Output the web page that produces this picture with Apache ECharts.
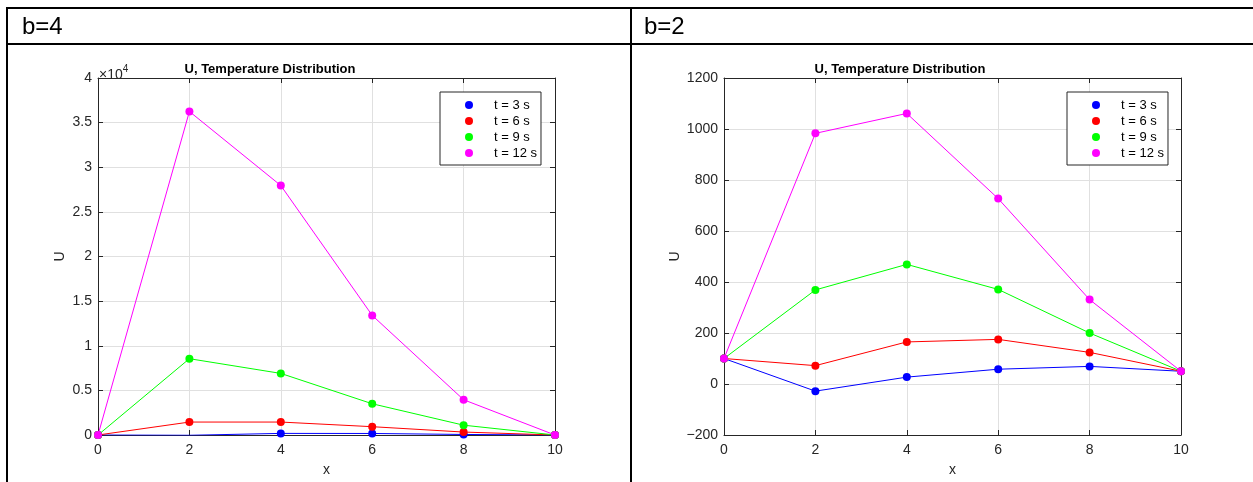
<!DOCTYPE html>
<html>
<head>
<meta charset="utf-8">
<script src="https://cdn.jsdelivr.net/npm/echarts@6/dist/echarts.min.js"></script>
<style>
  html, body { margin: 0; padding: 0; background: #fff; }
  #chart { width: 1253px; height: 482px; }
</style>
</head>
<body>
<div id="chart"></div>
<script>
// x positions (shared by both panels)
const xs = [0, 2, 4, 6, 8, 10]
const seriesNames = ['t = 3 s', 't = 6 s', 't = 9 s', 't = 12 s']
const seriesColors = ['#0000ff', '#ff0000', '#00ff00', '#ff00ff']

// b=4 panel
const b4T3 = [0, -30, 180, 170, 60, 0]
const b4T6 = [0, 1450, 1450, 930, 330, 0]
const b4T9 = [0, 8550, 6900, 3500, 1100, 0]
const b4T12 = [0, 36250, 27950, 13400, 3950, 0]

// b=2 panel
const b2T3 = [100, -28, 27, 58, 69, 50]
const b2T6 = [100, 72, 165, 175, 124, 50]
const b2T9 = [100, 369, 469, 371, 200, 50]
const b2T12 = [100, 983, 1061, 727, 331, 50]

const panelHeaders = ['b=4', 'b=2']
const chartTitle = 'U, Temperature Distribution'

const font = "'Liberation Sans', Arial, Helvetica, sans-serif"
const axisColor = '#262626'
const gridColor = '#e0e0e0'

const toPairs = vals => xs.map((x, i) => [x, vals[i]])
const fmtMinus = v => (v < 0 ? '\u2212' + Math.abs(v) : String(v))

// one panel = bottom/top x axes + left/right y axes
const makeX = (gridIndex, top) => ({
  type: 'value', gridIndex, min: 0, max: 10, interval: 2,
  position: top ? 'top' : 'bottom',
  name: top ? '' : 'x', nameLocation: 'middle', nameGap: 28,
  nameTextStyle: { color: axisColor, fontSize: 14, fontFamily: font },
  axisLine: { show: true, onZero: false, lineStyle: { color: axisColor, width: 1 } },
  axisTick: { show: true, inside: true, length: 5, lineStyle: { color: axisColor } },
  axisLabel: { show: !top, color: axisColor, fontSize: 14, fontFamily: font, margin: 8 },
  splitLine: { show: !top, lineStyle: { color: gridColor, width: 1 } }
})

const makeY = (gridIndex, right, min, max, interval, formatter) => ({
  type: 'value', gridIndex, min, max, interval,
  position: right ? 'right' : 'left',
  name: right ? '' : 'U', nameLocation: 'middle', nameGap: 31, nameRotate: 90,
  nameTextStyle: { color: axisColor, fontSize: 14, fontFamily: font },
  axisLine: { show: true, onZero: false, lineStyle: { color: axisColor, width: 1 } },
  axisTick: { show: true, inside: true, length: 5, lineStyle: { color: axisColor } },
  axisLabel: { show: !right, color: axisColor, fontSize: 14, fontFamily: font, margin: 6, formatter },
  splitLine: { show: !right, lineStyle: { color: gridColor, width: 1 } }
})

const makeSeries = (sets, xIdx, yIdx) => sets.map((vals, i) => ({
  name: seriesNames[i],
  type: 'line',
  xAxisIndex: xIdx,
  yAxisIndex: yIdx,
  data: toPairs(vals),
  symbol: 'circle',
  symbolSize: 8,
  showSymbol: true,
  color: seriesColors[i],
  lineStyle: { width: 1, color: seriesColors[i] },
  itemStyle: { color: seriesColors[i] },
  z: 2 + i
}))

const makeLegend = (left) => ({
  left, top: 92,
  orient: 'vertical',
  data: seriesNames,
  icon: 'circle',
  itemWidth: 8, itemHeight: 8, itemGap: 0,
  padding: [5, 4, 4, 25],
  borderColor: axisColor, borderWidth: 1,
  backgroundColor: '#fff',
  selectedMode: false,
  textStyle: { color: '#000', fontSize: 13, fontFamily: font, lineHeight: 16, padding: [0, 0, 0, 16] }
})

const chart = echarts.init(document.getElementById('chart'))
chart.setOption({
  animation: false,
  backgroundColor: '#fff',
  grid: [
    { left: 98, top: 78, width: 457, height: 360 },
    { left: 724, top: 78, width: 457, height: 360 }
  ],
  xAxis: [makeX(0, false), makeX(0, true), makeX(1, false), makeX(1, true)],
  yAxis: [
    makeY(0, false, 0, 40000, 5000, v => String(v / 10000)),
    makeY(0, true, 0, 40000, 5000),
    makeY(1, false, -200, 1200, 200, fmtMinus),
    makeY(1, true, -200, 1200, 200)
  ],
  legend: [makeLegend(440), makeLegend(1067)],
  series: [
    ...makeSeries([b4T3, b4T6, b4T9, b4T12], 0, 0),
    ...makeSeries([b2T3, b2T6, b2T9, b2T12], 2, 2)
  ],
  graphic: [
    // table borders
    { type: 'rect', shape: { x: 6, y: 7, width: 1247, height: 2 }, style: { fill: '#000' }, silent: true },
    { type: 'rect', shape: { x: 6, y: 43, width: 1247, height: 2 }, style: { fill: '#000' }, silent: true },
    { type: 'rect', shape: { x: 6, y: 7, width: 2, height: 475 }, style: { fill: '#000' }, silent: true },
    { type: 'rect', shape: { x: 630, y: 7, width: 2, height: 475 }, style: { fill: '#000' }, silent: true },
    // header cells
    { type: 'text', x: 22, y: 27, style: { text: panelHeaders[0], font: '24px ' + font, fill: '#000', verticalAlign: 'middle' } },
    { type: 'text', x: 644, y: 27, style: { text: panelHeaders[1], font: '24px ' + font, fill: '#000', verticalAlign: 'middle' } },
    // plot titles
    { type: 'text', x: 270, y: 69, style: { text: chartTitle, font: 'bold 13px ' + font, fill: '#000', align: 'center', verticalAlign: 'middle' } },
    { type: 'text', x: 900, y: 69, style: { text: chartTitle, font: 'bold 13px ' + font, fill: '#000', align: 'center', verticalAlign: 'middle' } },
    // exponent label of the left y axis
    {
      type: 'text', x: 99, y: 62,
      style: {
        text: '{a|\u00d710}{b|4}',
        rich: {
          a: { fontSize: 14, fontFamily: font, fill: axisColor, padding: [6, 0, 0, 0] },
          b: { fontSize: 10, fontFamily: font, fill: axisColor, padding: [0, 0, 5, 0] }
        }
      }
    }
  ]
})
</script>
</body>
</html>
